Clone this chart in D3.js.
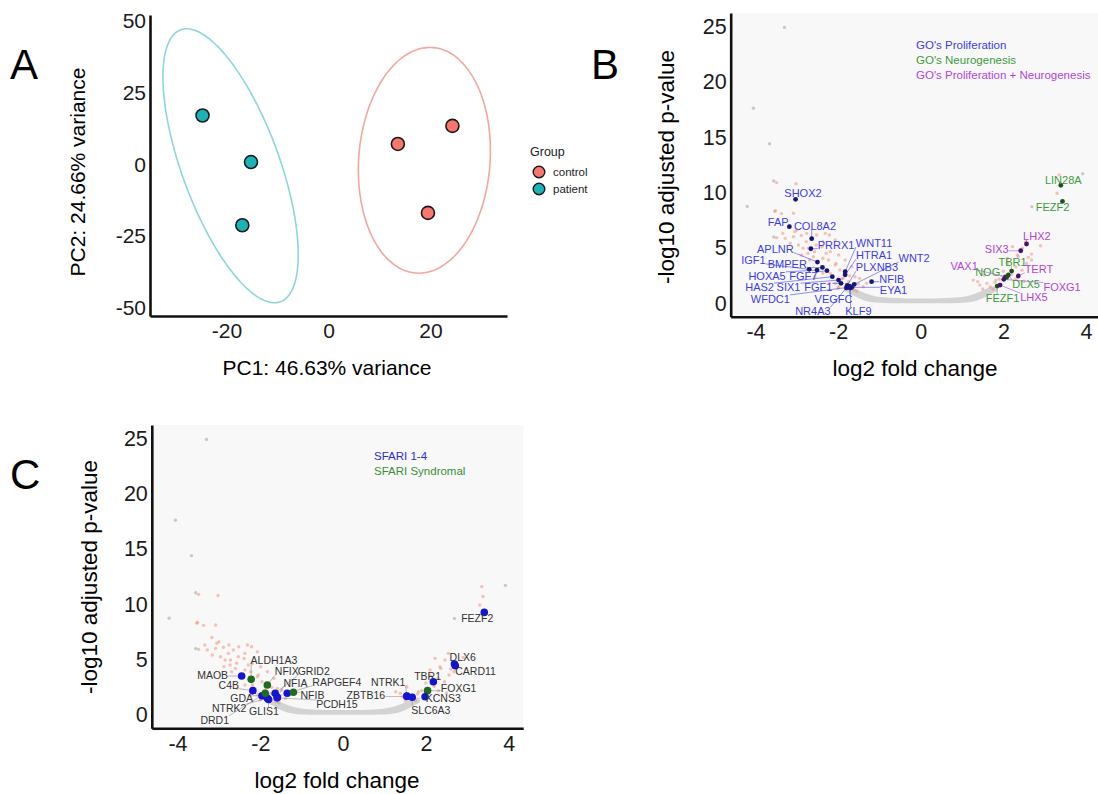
<!DOCTYPE html>
<html>
<head>
<meta charset="utf-8">
<script src="https://cdn.jsdelivr.net/npm/d3@7"></script>
<style>
body{margin:0;background:#fff;}
svg text{font-family:"Liberation Sans",Arial,Helvetica,sans-serif;}
</style>
</head>
<body>
<div id="canvas"></div>
<script>
// ---------- Panel A data (PCA) ----------
var pcaGroup = ['patient','patient','patient','control','control','control'];
var pc1 = [-24.7,-15.2,-16.9,13.6,24.3,19.5];
var pc2 = [17.0,0.8,-21.2,7.1,13.4,-16.9];
var groups = ['control','patient'];
// ellipse centre and two conjugate half-axes, in PC units
var ellGroup = ['patient','control'];
var ellCenter = [[-19.2,-0.5],[18.8,1.4]];
var ellU = [[-8.6,47.7],[1.1,39.3]];
var ellV = [[10.1,0],[12.9,0]];
var pcaTicksX = [-20,0,20];
var pcaTicksY = [-50,-25,0,25,50];

// ---------- shared volcano data ----------
var volTicksX = [-4,-2,0,2,4];
var volTicksY = [0,5,10,15,20,25];
// dense non-significant band (lower / upper edge)
var bandX  = [-1.85,-1.7,-1.55,-1.4,-1.25,-1.1,-0.9,-0.6,-0.3,0,0.3,0.6,0.9,1.1,1.25,1.4,1.55,1.7,1.85];
var bandLo = [1.1,0.85,0.55,0.3,0.15,0.08,0.04,0.02,0.02,0.02,0.02,0.02,0.04,0.08,0.15,0.3,0.55,0.85,1.1];
var bandHi = [1.6,1.5,1.25,1.0,0.8,0.65,0.55,0.48,0.45,0.45,0.45,0.48,0.55,0.65,0.8,1.0,1.25,1.5,1.6];
var greyPoints = [[-3.30,24.9],[-4.05,17.6],[-3.66,14.4],[-3.56,11.05],[-4.2,8.75],[3.92,11.7],[-3.56,6.0],[2.69,8.73]];
var sigPoints = [
  [-3.49,10.9],[-3.02,10.8],[-3.52,8.37],[-3.08,8.13],[-3.37,8.1],[-3.53,8.3],[-3.17,7.0],[-3.05,6.48],
  [-3.34,6.32],[-3.0,6.62],[-3.08,6.02],[-2.76,6.32],[-2.52,6.17],[-2.31,6.32],[-2.21,6.17],[-2.07,5.72],
  [-3.49,5.93],[-2.89,6.12],[-2.96,5.27],[-2.77,5.57],[-2.65,5.87],[-2.53,5.27],[-2.37,5.57],[-2.39,5.11],
  [-2.85,4.97],[-2.72,4.97],[-3.16,5.42],[-3.28,5.87],[-2.19,4.66],[-2.73,4.52],[-2.57,4.67],[-2.29,4.52],
  [-2.88,4.36],[-1.99,4.36],[-2.60,4.21],[-2.69,3.91],[-2.37,4.07],[-2.23,3.91],[-1.83,3.91],[-2.07,3.46],
  [-2.05,3.61],[-1.67,3.31],[-1.96,3.01],[-2.19,2.71],[-2.37,2.71],[-2.56,2.40],[-2.13,2.41],[-1.88,2.26],
  [-1.91,2.2],[-1.59,2.40],[-1.72,2.50],[-1.48,2.26],[-2.07,1.81],[-2.21,1.81],[-1.75,1.95],[-1.51,1.74],
  [-1.39,1.50],[-1.31,1.81],[-1.99,1.50],[-2.0,1.36],[-1.62,1.2],[-1.55,1.1],
  [3.30,9.94],[3.38,10.7],[3.35,11.6],[2.68,4.45],[2.60,4.15],[2.68,3.91],[2.56,3.61],[2.36,4.21],
  [2.54,5.57],[2.46,4.97],[2.22,5.12],[2.34,4.36],[2.10,4.07],[2.3,3.3],[2.45,3.0],[2.2,2.6],
  [1.27,2.10],[1.43,1.65],[1.60,1.81],[1.68,1.50],[1.8,1.9],[1.9,2.2],[2.0,2.9],[2.1,3.6],
  [2.3,2.2],[2.5,2.0],[1.5,1.3],[1.75,1.3],[2.9,5.2],[1.54,2.56],[1.82,2.1],[1.38,1.96]
];

// ---------- Panel B data: GO genes ----------
var goSets = ["GO's Proliferation","GO's Neurogenesis","GO's Proliferation + Neurogenesis"];
var goGene = ['SHOX2','FAP','COL8A2','PRRX1','WNT11','APLNR','HTRA1','WNT2','IGF1','BMPER','PLXNB3',
  'NFIB','HOXA5','FGF7','EYA1','HAS2','SIX1','FGF1','WFDC1','VEGFC','NR4A3','KLF9',
  'LIN28A','FEZF2','LHX2','SIX3','VAX1','TBR1','NOG','TERT','DLX5','FOXG1','FEZF1','LHX5'];
var goSet = [0,0,0,0,0,0,0,0,0,0,0,0,0,0,0,0,0,0,0,0,0,0, 1,1,2,2,2,1,1,2,1,2,1,2];
var goX = [-3.03,-3.18,-2.64,-2.66,-1.83,-2.50,-1.83,-1.61,-2.70,-2.38,-1.78,-1.19,-2.51,-2.27,-1.67,-2.14,-1.99,-1.93,-1.75,-1.72,-1.80,-1.70,
  3.39,3.43,2.56,2.42,2.05,2.20,2.08,2.36,2.12,2.01,1.85,1.92];
var goY = [9.39,6.92,5.84,4.93,2.86,3.73,2.58,1.72,3.07,3.25,1.62,1.96,3.01,2.95,1.45,2.41,2.10,1.81,1.45,1.55,1.40,1.38,
  10.66,9.21,5.36,4.75,2.40,2.92,2.35,2.47,2.56,2.17,1.56,1.65];
var goLabX = [-2.85,-3.45,-2.56,-2.05,-1.13,-3.52,-1.13,-0.16,-4.05,-3.23,-1.06,-0.70,-3.72,-2.84,-0.66,-3.90,-3.20,-2.48,-3.64,-2.11,-2.61,-1.51,
  3.45,3.19,2.81,1.84,1.05,2.22,1.62,2.86,2.55,3.42,1.98,2.74];
var goLabY = [9.94,7.35,7.0,5.29,5.42,4.93,4.34,4.07,3.91,3.52,3.25,2.22,2.47,2.47,1.20,1.45,1.45,1.45,0.39,0.39,-0.70,-0.70,
  11.14,8.64,6.08,4.88,3.35,3.75,2.85,3.10,1.70,1.50,0.45,0.55];

// ---------- Panel C data: SFARI genes ----------
var sfSets = ['SFARI 1-4','SFARI Syndromal'];
var sfGene = ['MAOB','ALDH1A3','NFIX','GRID2','C4B','NFIA','RAPGEF4','NFIB','GDA','PCDH15','NTRK2','GLIS1','DRD1',
  'FEZF2','DLX6','CARD11','TBR1','NTRK1','ZBTB16','FOXG1','KCNS3','SLC6A3'];
var sfSet = [0,1,1,0,0,0,0,1,0,0,0,0,1, 0,0,0,0,0,0,1,0,0];
var sfX = [-2.45,-2.22,-1.83,-1.64,-2.18,-1.59,-1.35,-1.20,-1.96,-1.59,-1.83,-1.80,-1.88,
  3.41,2.71,2.69,2.18,1.54,1.54,2.04,1.98,1.67];
var sfY = [3.52,3.22,2.71,1.96,2.20,1.60,1.96,2.05,1.74,1.55,1.51,1.40,1.96,
  9.27,4.45,4.60,3.01,1.72,1.68,2.20,1.65,1.60];
var sfLabX = [-3.15,-1.67,-1.36,-0.71,-2.76,-1.15,-0.15,-0.74,-2.45,-0.15,-2.75,-1.91,-3.1,
  3.24,2.89,3.2,2.04,1.09,0.55,2.79,2.42,2.12];
var sfLabY = [3.61,4.9,3.91,3.91,2.71,2.90,2.98,1.82,1.5,0.97,0.6,0.3,-0.45,
  8.73,5.21,3.91,3.46,2.92,1.81,2.41,1.5,0.45];

// ---------- setup ----------
var W = 1098, H = 794;
var svg = d3.select('#canvas').append('svg').attr('width',W).attr('height',H);
function fmt(d){ return String(d); }

function styleAxis(sel, size){
  sel.select('.domain').attr('stroke','#111').attr('stroke-width',2.6);
  sel.selectAll('.tick line').remove();
  sel.selectAll('.tick text').attr('font-size',size).attr('fill','#1a1a1a');
}

// ---------- Panel A ----------
var aColor = {control:'#F8766D', patient:'#1CB3B6'};
var aRing = {control:'#F2A7A1', patient:'#8FD6D9'};
var ax = d3.scaleLinear().domain([-35,35]).range([150,507]);
var ay = d3.scaleLinear().domain([-52.8,52]).range([316,15]);
var gA = svg.append('g');

ellGroup.forEach(function(grp,i){
  var pts = d3.range(0,361,3).map(function(deg){
    var t = deg*Math.PI/180;
    return [ax(ellCenter[i][0]+Math.cos(t)*ellU[i][0]+Math.sin(t)*ellV[i][0]),
            ay(ellCenter[i][1]+Math.cos(t)*ellU[i][1]+Math.sin(t)*ellV[i][1])];
  });
  gA.append('path').attr('d',d3.line().curve(d3.curveCardinalClosed)(pts))
    .attr('fill','none').attr('stroke',aRing[grp]).attr('stroke-width',1.6);
});

gA.selectAll('.sample').data(pc1).enter().append('circle')
  .attr('class','sample')
  .attr('cx',function(d){return ax(d);})
  .attr('cy',function(d,i){return ay(pc2[i]);})
  .attr('r',6.5)
  .attr('fill',function(d,i){return aColor[pcaGroup[i]];})
  .attr('stroke','#1a1a1a').attr('stroke-width',1.6);

gA.append('g').attr('transform','translate(0,316)')
  .call(d3.axisBottom(ax).tickValues(pcaTicksX).tickFormat(fmt).tickSize(0).tickSizeOuter(0).tickPadding(7))
  .call(styleAxis,21);
gA.append('g').attr('transform','translate(150,0)')
  .call(d3.axisLeft(ay).tickValues(pcaTicksY).tickFormat(fmt).tickSize(0).tickSizeOuter(0).tickPadding(4))
  .call(styleAxis,21);

gA.append('text').attr('x',327).attr('y',375).attr('text-anchor','middle')
  .attr('font-size',21).text('PC1: 46.63% variance');
gA.append('text').attr('transform','translate(85,172) rotate(-90)').attr('text-anchor','middle')
  .attr('font-size',21).text('PC2: 24.66% variance');
svg.append('text').attr('x',10).attr('y',79).attr('font-size',42).text('A');

// legend
gA.append('text').attr('x',530).attr('y',156).attr('font-size',12.5).attr('fill','#222').text('Group');
groups.forEach(function(grp,i){
  gA.append('circle').attr('cx',539).attr('cy',172+i*17).attr('r',5.8)
    .attr('fill',aColor[grp]).attr('stroke','#1a1a1a').attr('stroke-width',1.4);
  gA.append('text').attr('x',553).attr('y',172+i*17).attr('dy','0.35em')
    .attr('font-size',11.5).attr('fill','#222').text(grp);
});

// ---------- volcano helper ----------
function volcano(o){
  var x = d3.scaleLinear().domain(o.xDomain).range([o.left,o.right]);
  var y = d3.scaleLinear().domain([-1.2,26.2]).range([o.bottom,o.top]);
  var g = svg.append('g');

  g.append('rect').attr('x',o.left).attr('y',o.top)
    .attr('width',o.right-o.left).attr('height',o.bottom-o.top).attr('fill','#f8f8f8');

  var band = d3.area()
    .x(function(d,i){return x(bandX[i]);})
    .y0(function(d,i){return y(bandLo[i]);})
    .y1(function(d,i){return y(bandHi[i]);})
    .curve(d3.curveMonotoneX);
  g.append('path').datum(bandX).attr('d',band).attr('fill','#d3d3d3');

  g.selectAll('.grey').data(greyPoints).enter().append('circle')
    .attr('cx',function(d){return x(d[0]);}).attr('cy',function(d){return y(d[1]);})
    .attr('r',1.7).attr('fill','#c8c8c8');
  g.selectAll('.sig').data(sigPoints).enter().append('circle')
    .attr('cx',function(d){return x(d[0]);}).attr('cy',function(d){return y(d[1]);})
    .attr('r',1.7).attr('fill','#f08c72').attr('opacity',0.5);

  var lineLayer = g.append('g'), dotLayer = g.append('g'), textLayer = g.append('g');
  o.genes.forEach(function(name,i){
    var px = x(o.gx[i]), py = y(o.gy[i]);
    var t = textLayer.append('text')
      .attr('x',x(o.lx[i])).attr('y',y(o.ly[i])).attr('dy','0.35em')
      .attr('text-anchor','middle').attr('font-size',o.labelSize)
      .attr('fill',o.textColor ? o.textColor : o.labelColor[o.set[i]]).text(name);
    var b = t.node().getBBox();
    var cx = Math.max(b.x,Math.min(px,b.x+b.width)),
        cy = Math.max(b.y+2,Math.min(py,b.y+b.height-2));
    if(Math.hypot(px-cx,py-cy) > 4){
      lineLayer.append('line').attr('x1',px).attr('y1',py).attr('x2',cx).attr('y2',cy)
        .attr('stroke',o.lineColor ? o.lineColor : o.labelColor[o.set[i]])
        .attr('stroke-width',0.7).attr('opacity',0.8);
    }
    dotLayer.append('circle').attr('cx',px).attr('cy',py).attr('r',o.dotR)
      .attr('fill',o.dotColor[o.set[i]]);
  });

  g.append('g').attr('transform','translate(0,'+o.bottom+')')
    .call(d3.axisBottom(x).tickValues(volTicksX).tickFormat(fmt).tickSize(0).tickSizeOuter(0).tickPadding(7))
    .call(styleAxis,21.5);
  g.append('g').attr('transform','translate('+o.left+',0)')
    .call(d3.axisLeft(y).tickValues(volTicksY).tickFormat(fmt).tickSize(0).tickSizeOuter(0).tickPadding(4))
    .call(styleAxis,21.5);

  g.append('text').attr('x',o.xTitle[0]).attr('y',o.xTitle[1]).attr('text-anchor','middle')
    .attr('font-size',22.5).text('log2 fold change');
  g.append('text').attr('transform','translate('+o.yTitle[0]+','+o.yTitle[1]+') rotate(-90)')
    .attr('text-anchor','middle').attr('font-size',22.5).text('-log10 adjusted p-value');

  o.legend.forEach(function(lab,i){
    g.append('text').attr('x',o.legendAt[0]).attr('y',o.legendAt[1]+i*o.legendStep).attr('dy','0.35em')
      .attr('font-size',o.legendSize).attr('fill',o.labelColor[i]).text(lab);
  });
}

// ---------- Panel B ----------
volcano({
  left:730.7, right:1098, top:13, bottom:316.7, xDomain:[-4.6,4.29],
  genes:goGene, gx:goX, gy:goY, lx:goLabX, ly:goLabY, set:goSet,
  labelColor:['#3d3de6','#3f9a3f','#b044e0'],
  dotColor:['#17177a','#1f4f1f','#44126e'],
  dotR:2.4, labelSize:11,
  legend:goSets, legendAt:[916,45], legendStep:15, legendSize:11.5,
  xTitle:[915,376], yTitle:[674,167]
});
svg.append('text').attr('x',591).attr('y',79).attr('font-size',42).text('B');

// ---------- Panel C ----------
volcano({
  left:151.8, right:523.2, top:425, bottom:728.3, xDomain:[-4.62,4.35],
  genes:sfGene, gx:sfX, gy:sfY, lx:sfLabX, ly:sfLabY, set:sfSet,
  labelColor:['#2d2de0','#3a8f3a'],
  textColor:'#333', lineColor:'#8a8a8a',
  dotColor:['#1414d2','#1f6a1f'],
  dotR:3.8, labelSize:10.5,
  legend:sfSets, legendAt:[374,456], legendStep:15, legendSize:11.5,
  xTitle:[337,788], yTitle:[97,577]
});
svg.append('text').attr('x',10).attr('y',489).attr('font-size',42).text('C');
</script>
</body>
</html>
